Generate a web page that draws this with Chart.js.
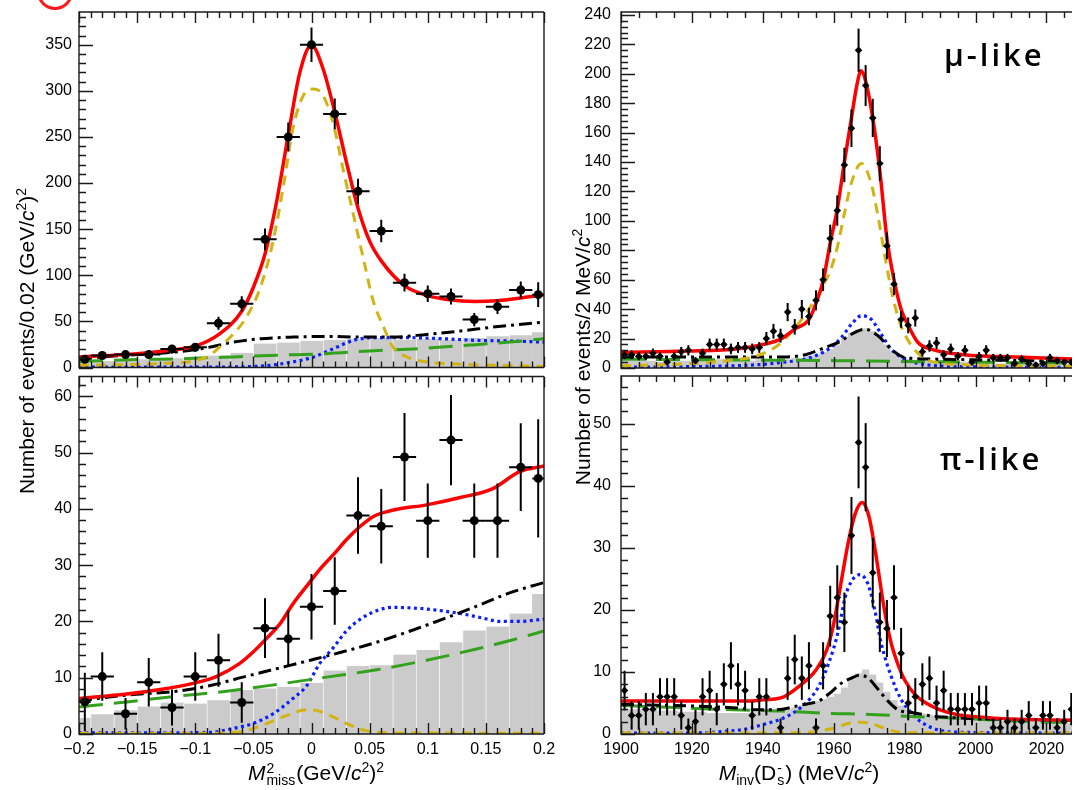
<!DOCTYPE html>
<html>
<head>
<meta charset="utf-8">
<script src="https://cdn.jsdelivr.net/npm/chart.js@4.4.1/dist/chart.umd.min.js"></script>
<style>
	body { margin: 0; background: #fff; width: 1076px; height: 790px; overflow: hidden; position: relative; font-family: 'Liberation Sans', Arial, sans-serif; color: #000; }
	canvas { position: absolute; }
	.ttl { position: absolute; font-size: 21px; white-space: nowrap; text-align: center; }
	.rot { transform: rotate(-90deg); transform-origin: 50% 50%; }
	.ss { display: inline-block; vertical-align: middle; line-height: 0.9; font-size: 14px; text-align: left; margin: 0 1px; }
	.ss span { display: block; }
	sup { font-size: 14px; line-height: 0; }
	sub { font-size: 14px; line-height: 0; }
	.tag { position: absolute; font-family: 'Open Sans', sans-serif; font-weight: 600; font-size: 31px; letter-spacing: 3px; }
	.mark { position: absolute; left: 37px; top: -26px; width: 30px; height: 30px; border: 3px solid #ff1a1a; border-radius: 50%; }
</style>
</head>
<body>
<div class="mark"></div>
<canvas id="cTL" width="560" height="372" style="left:0;top:0"></canvas>
<canvas id="cBL" width="560" height="418" style="left:0;top:372px"></canvas>
<canvas id="cTR" width="516" height="372" style="left:560px;top:0"></canvas>
<canvas id="cBR" width="516" height="418" style="left:560px;top:372px"></canvas>

<div class="ttl rot" style="left:-173px;top:329px;width:400px">Number of events/0.02 (GeV/<i>c</i><sup>2</sup>)<sup>2</sup></div>
<div class="ttl rot" style="left:383px;top:345px;width:400px">Number of events/2 MeV/<i>c</i><sup>2</sup></div>
<div class="ttl" style="left:116px;top:761px;width:400px"><i>M</i><span class="ss"><span>2</span><span>miss</span></span>(GeV/<i>c</i><sup>2</sup>)<sup>2</sup></div>
<div class="ttl" style="left:599px;top:761px;width:400px"><i>M</i><sub>inv</sub>(D<span class="ss"><span>-</span><span>s</span></span>) (MeV/<i>c</i><sup>2</sup>)</div>
<div class="tag" style="left:944px;top:33px">μ-like</div>
<div class="tag" style="left:940px;top:437px">π-like</div>

<script>
// ---- M^2_miss panels (bins of 0.02, half bins at the edges) ----
var missX = [-0.195, -0.18, -0.16, -0.14, -0.12, -0.10, -0.08, -0.06, -0.04, -0.02, 0, 0.02, 0.04, 0.06, 0.08, 0.10, 0.12, 0.14, 0.16, 0.18, 0.195];
var missHalfW = [0.005, 0.01, 0.01, 0.01, 0.01, 0.01, 0.01, 0.01, 0.01, 0.01, 0.01, 0.01, 0.01, 0.01, 0.01, 0.01, 0.01, 0.01, 0.01, 0.01, 0.005];

var muMissData = [9, 13, 14, 14, 20, 22, 48, 69, 139, 250, 350, 275, 191, 148, 92, 80, 77, 52, 66, 84, 79];
var muMissErr = [4, 3.6, 3.7, 3.7, 4.5, 4.7, 7, 8.3, 11.8, 15.8, 18.7, 16.6, 13.8, 12.2, 9.6, 8.9, 8.8, 7.2, 8.1, 9.2, 13.5];
var muMissHist = [6, 7, 8, 9, 10, 11, 13, 16, 26, 27, 29, 30, 31, 32, 30, 31, 30, 32, 34, 35, 38];

var piMissData = [5.7, 10.2, 3.6, 9.2, 4.7, 10.2, 13.1, 5.6, 18.8, 16.9, 22.6, 25.4, 38.8, 36.9, 49.2, 37.9, 52.2, 37.9, 37.9, 47.4, 45.4];
var piMissErr = [5.2, 4.3, 2.8, 4.3, 3.2, 4.3, 4.7, 3.6, 5.3, 5.0, 5.8, 6.0, 6.8, 6.6, 7.8, 6.6, 8.0, 6.6, 6.6, 7.8, 10.5];
var piMissHist = [2.8, 3.5, 4.2, 4.9, 5.6, 5.4, 6.0, 7.8, 8.1, 8.4, 9.1, 11.3, 12.1, 12.2, 14.1, 14.9, 16.3, 18.4, 19.1, 21.4, 24.8];

// fit components, [x, y]
var muMissTotal = [[-0.2, 11.5], [-0.15, 14.9], [-0.12, 19], [-0.1, 23.1], [-0.08, 35.6], [-0.06, 61], [-0.05, 87], [-0.04, 123], [-0.03, 180], [-0.02, 252], [-0.01, 320], [0, 349.6], [0.01, 323.7], [0.02, 277], [0.03, 223], [0.04, 173], [0.05, 137], [0.06, 115.6], [0.08, 88.7], [0.10, 77.9], [0.12, 73.2], [0.14, 71.7], [0.16, 72.5], [0.18, 75.4], [0.20, 79]];
var muMissSig = [[-0.2, 2.5], [-0.13, 4.3], [-0.09, 11.5], [-0.079, 22.3], [-0.067, 36.6], [-0.056, 54.6], [-0.044, 86.8], [-0.033, 137], [-0.024, 198], [-0.016, 259], [-0.007, 295], [0.002, 302], [0.01, 295], [0.019, 263], [0.027, 216], [0.036, 166], [0.045, 116], [0.053, 72.5], [0.062, 43.9], [0.07, 22.3], [0.082, 11.5], [0.099, 6.1], [0.128, 3.6], [0.2, 1.2]];
var muMissBkg = [[-0.2, 9.7], [-0.159, 13.3], [-0.116, 16.9], [-0.09, 21.5], [-0.067, 27.6], [-0.044, 31.2], [-0.016, 33], [0.013, 33.7], [0.042, 33], [0.07, 33], [0.099, 35.9], [0.128, 39.5], [0.156, 43.8], [0.2, 49.2]];
var muMissComb = [[-0.2, 6.8], [-0.15, 8.6], [-0.107, 9.7], [-0.067, 11.5], [-0.03, 13.3], [0.013, 15], [0.05, 18], [0.093, 20.5], [0.133, 24], [0.171, 27.6], [0.2, 31.2]];
var muMissCross = [[-0.2, 0.3], [-0.1, 0.3], [-0.044, 1.5], [-0.016, 6.1], [0.002, 11.5], [0.019, 20.5], [0.036, 29.4], [0.053, 32.3], [0.085, 32.3], [0.113, 31.2], [0.142, 29.4], [0.171, 28.7], [0.2, 27.6]];

var piMissTotal = [[-0.2, 6.3], [-0.159, 7.1], [-0.13, 7.9], [-0.102, 9.0], [-0.082, 10.2], [-0.062, 12.5], [-0.05, 14.6], [-0.039, 16.9], [-0.027, 19.6], [-0.016, 23.1], [-0.004, 26.3], [0.007, 29.2], [0.019, 31.9], [0.03, 34.5], [0.042, 36.9], [0.053, 38.6], [0.065, 39.5], [0.076, 40], [0.099, 40.7], [0.128, 42], [0.156, 43.6], [0.179, 46.6], [0.2, 47.6]];
var piMissSig = [[-0.2, 0.15], [-0.087, 0.15], [-0.056, 0.6], [-0.039, 1.8], [-0.021, 3.3], [-0.004, 4.3], [0.004, 4.2], [0.019, 3.0], [0.033, 1.6], [0.047, 0.6], [0.07, 0.2], [0.2, 0.15]];
var piMissBkg = [[-0.2, 5.9], [-0.159, 6.9], [-0.116, 7.6], [-0.087, 8.6], [-0.059, 10.1], [-0.03, 11.6], [-0.001, 13.1], [0.027, 14.6], [0.056, 16.3], [0.085, 18.3], [0.113, 20.4], [0.142, 22.7], [0.171, 25.1], [0.2, 26.9]];
var piMissComb = [[-0.2, 4.8], [-0.159, 5.7], [-0.116, 6.7], [-0.073, 7.6], [-0.03, 8.8], [0.013, 10.1], [0.056, 11.4], [0.099, 13.1], [0.142, 15.1], [0.171, 16.6], [0.2, 18.3]];
var piMissCross = [[-0.2, 0.2], [-0.13, 0.2], [-0.087, 0.3], [-0.067, 1], [-0.05, 1.9], [-0.033, 3.6], [-0.016, 6.3], [-0.004, 8.6], [0.007, 12.5], [0.019, 15.4], [0.03, 18.3], [0.042, 20.4], [0.056, 21.9], [0.07, 22.5], [0.085, 22.4], [0.099, 22.2], [0.128, 21.4], [0.145, 20.7], [0.162, 20], [0.179, 20], [0.2, 20.4]];

// ---- M_inv(Ds) panels (2 MeV bins from 1900) ----
var invX = [1901, 1903, 1905, 1907, 1909, 1911, 1913, 1915, 1917, 1919, 1921, 1923, 1925, 1927, 1929, 1931, 1933, 1935, 1937, 1939,
	1941, 1943, 1945, 1947, 1949, 1951, 1953, 1955, 1957, 1959, 1961, 1963, 1965, 1967, 1969, 1971, 1973, 1975, 1977, 1979,
	1981, 1983, 1985, 1987, 1989, 1991, 1993, 1995, 1997, 1999, 2001, 2003, 2005, 2007, 2009, 2011, 2013, 2015, 2017, 2019,
	2021, 2023, 2025, 2027];
var invEdges = [1900, 1902, 1904, 1906, 1908, 1910, 1912, 1914, 1916, 1918, 1920, 1922, 1924, 1926, 1928, 1930, 1932, 1934, 1936, 1938,
	1940, 1942, 1944, 1946, 1948, 1950, 1952, 1954, 1956, 1958, 1960, 1962, 1964, 1966, 1968, 1970, 1972, 1974, 1976, 1978,
	1980, 1982, 1984, 1986, 1988, 1990, 1992, 1994, 1996, 1998, 2000, 2002, 2004, 2006, 2008, 2010, 2012, 2014, 2016, 2018,
	2020, 2022, 2024, 2026, 2028];

var muInvData = [9, 9, 8, 8, 10, 8, 4, 8, 11, 12, 5, 10, 16, 16, 16, 13, 14, 14, 13, 14,
	20, 25, 22, 38, 28, 40, 35, 46, 60, 88, 107, 138, 163, 216, 192, 170, 139, 83, 57, 33,
	29, 34, 11, 15, 17, 9, 13, 8, 12, 4, 8, 12, 7, 7, 7, 3, 6, 3, 2, 3,
	7, 5, 4, 4];
var muInvErr = [3, 3, 2.8, 2.8, 3.2, 2.8, 2, 2.8, 3.3, 3.5, 2.2, 3.2, 4, 4, 4, 3.6, 3.7, 3.7, 3.6, 3.7,
	4.5, 5, 4.7, 6.2, 5.3, 6.3, 5.9, 6.8, 7.7, 9.4, 10.3, 11.7, 12.8, 14.7, 13.9, 13, 11.8, 9.1, 7.5, 5.7,
	5.4, 5.8, 3.3, 3.9, 4.1, 3, 3.6, 2.8, 3.5, 2, 2.8, 3.5, 2.6, 2.6, 2.6, 1.7, 2.4, 1.7, 1.4, 1.7,
	2.6, 2.2, 2, 2];
var muInvHist = [5, 5, 5, 5, 5, 4, 5, 5, 5, 5, 4, 5, 6, 6, 6, 6, 6, 5, 5, 6,
	6, 6, 6, 6, 7, 7, 8, 9, 11, 13, 16, 21, 24, 26, 27, 25, 21, 16, 11, 8,
	6, 5, 5, 5, 4, 4, 4, 4, 4, 4, 4, 4, 3, 3, 3, 3, 3, 3, 3, 3,
	3, 3, 3, 3];

var piInvData = [7, 3, 3, 4, 4, 6, 6, 6, 3, 1, 2, 6, 7, 4, 8, 11, 8, 7, 3, 6,
	6, null, 1, 9, 12, 9, 11, 1, 11, 19, 22, 18, 32, 47, 43, 26, 18, 17, 22, 13,
	5, 6, 8, 9, 5, 7, 4, 4, 4, 4, 5, 5, 1, 1, 2, 1, 2, 3, 1, 3,
	3, 1, 2, 4];
var piInvErr = [3.2, 2.3, 2.3, 2.6, 2.6, 3.0, 3.0, 3.0, 2.3, 1.5, 1.9, 3.0, 3.2, 2.6, 3.4, 3.8, 3.4, 3.2, 2.3, 3.0,
	3.0, null, 1.5, 3.5, 4.0, 3.5, 3.8, 1.5, 3.8, 4.9, 5.2, 4.8, 6.2, 7.4, 7.1, 5.6, 4.8, 4.6, 5.2, 4.1,
	2.8, 3.0, 3.4, 3.5, 2.8, 3.2, 2.6, 2.6, 2.6, 2.6, 2.8, 2.8, 1.5, 1.5, 1.9, 1.5, 1.9, 2.3, 1.5, 2.3,
	2.3, 1.5, 1.9, 2.6];
var piInvHist = [4, 4, 4, 4, 4, 3.8, 3.8, 3.8, 3.6, 3.6, 3.6, 3.6, 3.4, 3.4, 3.4, 3.4, 3.4, 3.4, 3.5, 3.5,
	3.5, 3.6, 3.8, 4, 4.3, 4.6, 5, 5.3, 5.6, 6.0, 6.5, 7.5, 8.8, 9.8, 10.4, 9.6, 8.3, 6.8, 5.5, 4.6,
	4, 3.6, 3.3, 3.1, 3.0, 2.9, 2.8, 2.7, 2.6, 2.5, 2.4, 2.3, 2.2, 2.1, 2.0, 2.0, 2.0, 1.9, 1.9, 1.9,
	1.9, 1.8, 1.8, 1.8];

var muInvTotal = [[1900, 10.6], [1919, 11.5], [1933, 13.1], [1941, 16.5], [1945, 19.6], [1949, 26.4], [1953, 33], [1955, 44], [1957, 59], [1959, 85], [1961, 108], [1963, 140], [1965, 170], [1966.5, 192], [1967.7, 202], [1969, 195], [1971, 170], [1973, 134], [1975, 88], [1977, 60], [1979, 40], [1981, 29], [1983.7, 17.5], [1987.4, 12.8], [1996.7, 9.0], [2015, 7.2], [2027.3, 6.1]];
var muInvSig = [[1900, 1.5], [1920, 3], [1930, 5], [1938, 8], [1944, 15], [1949, 27], [1953, 40], [1956, 52], [1959, 66], [1961, 82], [1963, 105], [1965, 126], [1967.8, 139], [1970.5, 126], [1972.5, 103], [1974.5, 75], [1976.5, 50], [1978.6, 31], [1982, 15], [1986, 6], [1990, 3.4], [2000, 2], [2027.3, 1.2]];
var muInvBkg = [[1900, 7.5], [1936, 7.5], [1945.5, 7.5], [1952, 9], [1957.6, 14], [1961.3, 17.4], [1966, 24.2], [1968.8, 26.4], [1972.5, 21.9], [1976.2, 12.8], [1980, 7.2], [1987.4, 6.1], [2027.3, 4.6]];
var muInvComb = [[1900, 6], [1930, 5.5], [1960, 5], [1990, 4.2], [2027.3, 3.4]];
var muInvCross = [[1900, 0.4], [1939, 2.3], [1945.5, 3.9], [1952, 6.1], [1958.5, 12.8], [1962.2, 20.8], [1965, 29.8], [1967.8, 35.5], [1970.6, 33], [1973.4, 23], [1976.2, 12.8], [1980, 6.1], [1983.7, 3.2], [1992, 1.2], [2027.3, 0.4]];

var piInvTotal = [[1900, 5.3], [1935, 5.3], [1940, 5.5], [1945.5, 5.9], [1950, 7.6], [1955, 10.3], [1958, 13.5], [1960, 17.8], [1962, 24.2], [1964, 30.6], [1966, 35.4], [1968, 37.3], [1970, 34.9], [1972, 28.5], [1974, 21], [1976, 15.1], [1978, 11.4], [1980, 8.7], [1983, 6.3], [1986, 5.0], [1990, 3.9], [1995, 3.1], [2000, 2.8], [2010, 2.4], [2027.3, 2.2]];
var piInvSig = [[1900, 0.15], [1950, 0.2], [1956, 0.5], [1960.4, 1.0], [1964, 1.7], [1967.8, 1.9], [1971.6, 1.5], [1975.3, 0.7], [1980, 0.2], [2027.3, 0.15]];
var piInvBkg = [[1900, 4.8], [1932.4, 4.2], [1938, 3.9], [1943.6, 3.9], [1951, 4.7], [1955.7, 5.3], [1958.5, 6.4], [1962.2, 8.2], [1965, 9.0], [1967.4, 9.5], [1969.7, 9.0], [1972.5, 7.2], [1975.3, 5.3], [1978.1, 3.9], [1982.7, 3.4], [1989.3, 2.8], [2027.3, 2.2]];
var piInvComb = [[1900, 4.6], [1917.5, 4.2], [1931.5, 3.9], [1945.5, 3.7], [1959.5, 3.3], [1968.8, 3.2], [1982.8, 2.8], [1996.7, 2.5], [2010.7, 2.1], [2027.3, 1.8]];
var piInvCross = [[1900, 0.15], [1919.4, 0.15], [1928.7, 0.4], [1935.2, 0.8], [1939.9, 1.5], [1945.5, 2.5], [1951, 4.4], [1955.7, 7.6], [1958.5, 11.3], [1961.3, 16.6], [1963.2, 22], [1965, 24.6], [1967.4, 25.7], [1969.7, 24.1], [1971.6, 19.9], [1973.4, 14.6], [1976.2, 9.3], [1979, 5.6], [1982.7, 2.9], [1986.5, 1.3], [1993.9, 0.3], [2027.3, 0.15]];

var tickFont = { family: "'Liberation Sans Narrow', 'Liberation Sans', Arial, sans-serif", size: 16 };

function pairs(a) {
	return a.map(function (p) { return { x: p[0], y: p[1] }; });
}
function points(xs, ys) {
	return xs.map(function (x, i) { return { x: x, y: ys[i] }; });
}

// ROOT-like frame, inner ticks and error bars
var rootStyle = {
	id: 'rootStyle',
	afterDatasetsDraw: function (chart) {
		var ctx = chart.ctx, xs = chart.scales.x, ys = chart.scales.y, a = chart.chartArea;
		ctx.save();
		ctx.beginPath();
		ctx.rect(a.left, a.top, a.right - a.left, a.bottom - a.top);
		ctx.clip();
		ctx.strokeStyle = '#000';
		ctx.lineWidth = 2;
		chart.data.datasets.forEach(function (ds) {
			if (!ds.yErr) return;
			ds.data.forEach(function (p, j) {
				if (p.y === null) return;
				var e = ds.yErr[j], px = xs.getPixelForValue(p.x), py = ys.getPixelForValue(p.y);
				ctx.beginPath();
				ctx.moveTo(px, ys.getPixelForValue(Math.max(p.y - e, 0)));
				ctx.lineTo(px, ys.getPixelForValue(p.y + e));
				if (ds.xErr) {
					ctx.moveTo(xs.getPixelForValue(p.x - ds.xErr[j]), py);
					ctx.lineTo(xs.getPixelForValue(p.x + ds.xErr[j]), py);
				}
				ctx.stroke();
			});
		});
		ctx.restore();
	},
	afterDraw: function (chart, args, o) {
		var ctx = chart.ctx, xs = chart.scales.x, ys = chart.scales.y, a = chart.chartArea;
		var k, v, len, p;
		ctx.save();
		ctx.strokeStyle = '#1a1a1a';
		ctx.lineWidth = 1.4;
		ctx.beginPath();
		ctx.moveTo(a.right, a.top);
		ctx.lineTo(a.left, a.top);
		ctx.lineTo(a.left, a.bottom);
		ctx.lineTo(a.right, a.bottom);
		if (o.rightSide) {
			ctx.moveTo(a.right, a.top);
			ctx.lineTo(a.right, a.bottom);
		}
		for (k = 0; ; k++) {
			v = xs.min + k * o.xMinor;
			if (v > xs.max + 1e-9) break;
			len = Math.abs(v / o.xMajor - Math.round(v / o.xMajor)) < 1e-6 ? 11 : 6;
			p = Math.round(xs.getPixelForValue(v)) + 0.5;
			ctx.moveTo(p, a.bottom);
			ctx.lineTo(p, a.bottom - len);
			ctx.moveTo(p, a.top);
			ctx.lineTo(p, a.top + len);
		}
		for (k = 0; ; k++) {
			v = k * o.yMinor;
			if (v > ys.max + 1e-9) break;
			len = Math.abs(v / o.yMajor - Math.round(v / o.yMajor)) < 1e-6 ? 14 : 7;
			p = Math.round(ys.getPixelForValue(v)) + 0.5;
			ctx.moveTo(a.left, p);
			ctx.lineTo(a.left + len, p);
		}
		ctx.stroke();
		ctx.restore();
	}
};

function curve(data, color, width, dash, order) {
	return {
		type: 'line', data: pairs(data), borderColor: color, borderWidth: width, borderDash: dash,
		pointRadius: 0, fill: false, cubicInterpolationMode: 'monotone', order: order
	};
}

function makePanel(id, c) {
	var datasets = [
		{
			type: 'scatter', data: points(c.px, c.data), yErr: c.err, xErr: c.xErr,
			pointStyle: c.marker, pointRadius: c.markerR, backgroundColor: '#000', borderColor: '#000', borderWidth: 0, order: 0
		},
		curve(c.total, '#ff0000', 3.5, [], 1),
		curve(c.sig, '#d1b414', 3, [10, 7], 2),
		curve(c.bkg, '#000000', 3, [13, 5, 3, 5], 3),
		curve(c.comb, '#33a11c', 3, [24, 11], 4),
		curve(c.cross, '#0a1eff', 3.2, [3, 3.5], 5)
	];
	if (c.histBars) {
		var full = [], half = [];
		c.px.forEach(function (x, i) {
			(c.xErr[i] < 0.009 ? half : full).push({ x: x, y: c.hist[i] });
		});
		datasets.push({
			type: 'bar', data: full, backgroundColor: '#cbcbcb', borderColor: '#f2f2f2',
			borderWidth: { left: 1, right: 0, top: 0, bottom: 0 }, borderSkipped: false,
			barThickness: 23.25, grouped: false, order: 6
		});
		datasets.push({
			type: 'bar', data: half, backgroundColor: '#cbcbcb', borderWidth: 0,
			barThickness: 11.6, grouped: false, order: 7
		});
	} else {
		var steps = c.edges.map(function (e, i) {
			return { x: e, y: c.hist[Math.min(i, c.hist.length - 1)] };
		});
		datasets.push({
			type: 'line', data: steps, stepped: true, fill: 'origin', backgroundColor: '#cbcbcb',
			borderWidth: 0, pointRadius: 0, order: 6
		});
	}

	return new Chart(document.getElementById(id), {
		type: 'scatter',
		data: { datasets: datasets },
		options: {
			responsive: false,
			animation: false,
			devicePixelRatio: 1,
			layout: { padding: c.padding },
			plugins: {
				legend: { display: false },
				tooltip: { enabled: false },
				rootStyle: c.ticks
			},
			scales: {
				x: {
					type: 'linear', min: c.xMin, max: c.xMax, offset: false,
					display: c.xLabels,
					afterFit: function (s) {
						s.height = c.xHeight;
						s.paddingLeft = 0;
						s.paddingRight = 0;
					},
					grid: { display: false, drawTicks: false },
					border: { display: false },
					ticks: {
						stepSize: c.xStep, includeBounds: false, autoSkip: false, maxRotation: 0,
						padding: 6, color: '#000', font: tickFont,
						callback: function (v) {
							var r = Math.round(v * 100) / 100;
							return r < 0 ? '\u2212' + (-r) : String(r);
						}
					}
				},
				y: {
					type: 'linear', min: 0, max: c.yMax,
					afterFit: function (s) {
						s.width = c.yWidth;
						s.paddingTop = 0;
						s.paddingBottom = 0;
					},
					grid: { display: false, drawTicks: false },
					border: { display: false },
					ticks: {
						stepSize: c.yStep, includeBounds: false, autoSkip: false,
						padding: c.yPad, color: '#000', font: tickFont
					}
				}
			}
		},
		plugins: [rootStyle]
	});
}

var missTicks = { xMinor: 0.01, xMajor: 0.05, rightSide: true };
var invTicks = { xMinor: 5, xMajor: 20, rightSide: false };

makePanel('cTL', {
	px: missX, data: muMissData, err: muMissErr, xErr: missHalfW, hist: muMissHist, histBars: true,
	total: muMissTotal, sig: muMissSig, bkg: muMissBkg, comb: muMissComb, cross: muMissCross,
	marker: 'circle', markerR: 4.5,
	xMin: -0.2, xMax: 0.2, xStep: 0.05, xLabels: false, xHeight: 1,
	yMax: 385.5, yStep: 50, yWidth: 79, yPad: 7,
	padding: { top: 12, right: 16, bottom: 0, left: 0 },
	ticks: Object.assign({ yMinor: 10, yMajor: 50 }, missTicks)
});
makePanel('cBL', {
	px: missX, data: piMissData, err: piMissErr, xErr: missHalfW, hist: piMissHist, histBars: true,
	total: piMissTotal, sig: piMissSig, bkg: piMissBkg, comb: piMissComb, cross: piMissCross,
	marker: 'circle', markerR: 4.5,
	xMin: -0.2, xMax: 0.2, xStep: 0.05, xLabels: true, xHeight: 56,
	yMax: 63.5, yStep: 10, yWidth: 79, yPad: 7,
	padding: { top: 4, right: 16, bottom: 0, left: 0 },
	ticks: Object.assign({ yMinor: 2, yMajor: 10 }, missTicks)
});
makePanel('cTR', {
	px: invX, data: muInvData, err: muInvErr, hist: muInvHist, edges: invEdges, histBars: false,
	total: muInvTotal, sig: muInvSig, bkg: muInvBkg, comb: muInvComb, cross: muInvCross,
	marker: 'rectRot', markerR: 3.8,
	xMin: 1900, xMax: 2027.2, xStep: 20, xLabels: false, xHeight: 1,
	yMax: 242, yStep: 20, yWidth: 61, yPad: 10,
	padding: { top: 12, right: 0, bottom: 0, left: 0 },
	ticks: Object.assign({ yMinor: 4, yMajor: 20 }, invTicks)
});
makePanel('cBR', {
	px: invX, data: piInvData, err: piInvErr, hist: piInvHist, edges: invEdges, histBars: false,
	total: piInvTotal, sig: piInvSig, bkg: piInvBkg, comb: piInvComb, cross: piInvCross,
	marker: 'rectRot', markerR: 3.8,
	xMin: 1900, xMax: 2027.2, xStep: 20, xLabels: true, xHeight: 56,
	yMax: 57.7, yStep: 10, yWidth: 61, yPad: 10,
	padding: { top: 4, right: 0, bottom: 0, left: 0 },
	ticks: Object.assign({ yMinor: 2, yMajor: 10 }, invTicks)
});
</script>
</body>
</html>
